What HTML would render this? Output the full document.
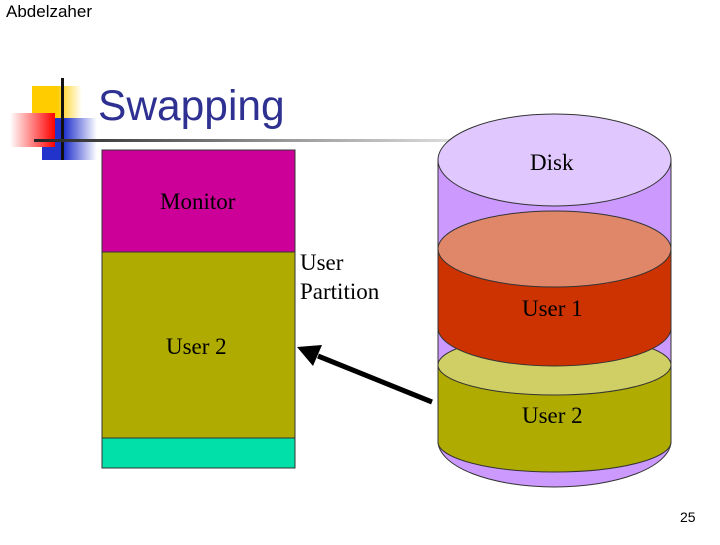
<!DOCTYPE html>
<html><head><style>
body{margin:0;width:720px;height:540px;background:#fff;overflow:hidden;font-family:"Liberation Serif",serif}
</style></head><body>
<svg width="720" height="540" xmlns="http://www.w3.org/2000/svg">
<defs>
<linearGradient id="ln" x1="0" x2="1"><stop offset="0" stop-color="#222"/><stop offset="0.6" stop-color="#999"/><stop offset="1" stop-color="#ddd"/></linearGradient>
<linearGradient id="rd" x1="1" x2="0"><stop offset="0" stop-color="#f00"/><stop offset="1" stop-color="#fff"/></linearGradient>
<linearGradient id="bl" x1="0" x2="1"><stop offset="0.4" stop-color="#2233cc"/><stop offset="1" stop-color="#fff"/></linearGradient>
<linearGradient id="yl" x1="0" x2="1"><stop offset="0.5" stop-color="#ffcc00"/><stop offset="1" stop-color="#fff"/></linearGradient>
</defs>
<text x="6" y="17" font-family="Liberation Sans" font-size="17">Abdelzaher</text>
<rect x="32" y="86" width="50" height="32" fill="url(#yl)"/>
<rect x="42" y="118" width="55" height="42" fill="url(#bl)"/>
<rect x="10" y="113" width="45" height="34" fill="url(#rd)"/>
<rect x="61" y="78" width="3" height="82" fill="#111"/>
<rect x="34" y="139" width="420" height="3" fill="url(#ln)"/>
<text x="98" y="120" font-family="Liberation Sans" font-size="42.5" fill="#2e3192">Swapping</text>
<rect x="102" y="150" width="193" height="102" fill="#cc0099" stroke="#333"/>
<rect x="102" y="252" width="193" height="186" fill="#afab00" stroke="#333"/>
<rect x="102" y="438" width="193" height="30" fill="#00e0a8" stroke="#333"/>
<g font-size="23">
<text x="160" y="209">Monitor</text>
<text x="300" y="270">User</text>
<text x="300" y="299">Partition</text>
<text x="166" y="354">User 2</text>
</g>
<path d="M438 160 V441 A116.5 46 0 0 0 671 441 V160 Z" fill="#cc99ff" stroke="#333"/>
<ellipse cx="554.5" cy="160" rx="116.5" ry="46" fill="#e0c8ff" stroke="#333"/>
<path d="M438 365 V442 A116.5 30 0 0 0 671 442 V365 Z" fill="#afab00" stroke="#333"/>
<ellipse cx="554.5" cy="365" rx="116.5" ry="30" fill="#d0cf66" stroke="#333"/>
<path d="M438 249 V328 A116.5 38 0 0 0 671 328 V249 Z" fill="#cc3300" stroke="#333"/>
<ellipse cx="554.5" cy="249" rx="116.5" ry="38" fill="#e0876a" stroke="#333"/>
<g font-size="23">
<text x="530" y="170">Disk</text>
<text x="522" y="316">User 1</text>
<text x="522" y="423">User 2</text>
</g>
<line x1="432" y1="402" x2="318" y2="356" stroke="#000" stroke-width="5"/>
<polygon points="297,347 322,345 313,366" fill="#000"/>
<text x="680" y="522" font-family="Liberation Sans" font-size="14">25</text>
</svg>
</body></html>
